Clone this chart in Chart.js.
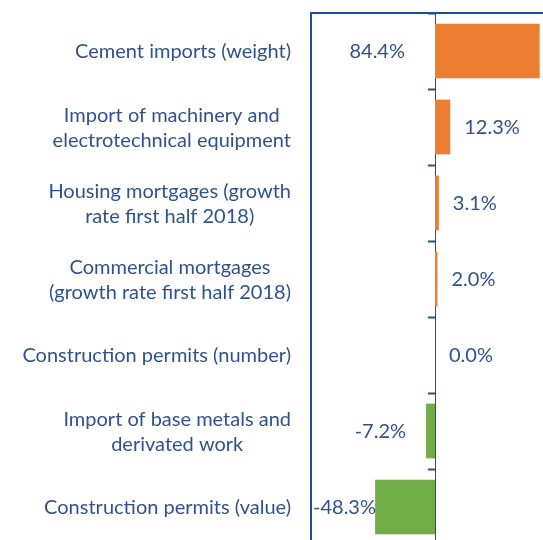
<!DOCTYPE html>
<html>
<head>
<meta charset="utf-8">
<script src="https://cdn.jsdelivr.net/npm/chart.js@4.4.1/dist/chart.umd.min.js"></script>
<style>
  html, body { margin: 0; padding: 0; background: #fff; overflow: hidden; }
  #wrap { width: 543px; height: 540px; overflow: hidden; position: relative; }
  #chart { display: block; }
</style>
</head>
<body>
<div id="wrap"><canvas id="chart" width="600" height="560"></canvas></div>
<script>
// Categories (multi-line labels, top to bottom)
const categories = [
  ['Cement imports (weight)'],
  ['Import of machinery and', 'electrotechnical equipment'],
  ['Housing mortgages (growth', 'rate first half 2018)'],
  ['Commercial mortgages', '(growth rate first half 2018)'],
  ['Construction permits (number)'],
  ['Import of base metals and', 'derivated work'],
  ['Construction permits (value)']
];

// Change in %
const values = [84.4, 12.3, 3.1, 2.0, 0.0, -7.2, -48.3];

const POS_COLOR = '#ED7D31';
const NEG_COLOR = '#70AD47';
const LINE_COLOR = '#1F4E96';
const TEXT_COLOR = '#2F528F';
const FONT = '20px Lato';
const VISIBLE_WIDTH = 543;

// Frame of the plot area (left and top edges) plus the category and value labels
const labelPlugin = {
  id: 'excelLabels',
  afterDraw(chart) {
    const ctx = chart.ctx;
    const area = chart.chartArea;
    const xs = chart.scales.x;
    const ys = chart.scales.y;

    ctx.save();
    // plot border
    ctx.strokeStyle = LINE_COLOR;
    ctx.lineWidth = 2;
    ctx.beginPath();
    ctx.moveTo(area.left, area.bottom + 20);
    ctx.lineTo(area.left, area.top);
    ctx.lineTo(area.right + 20, area.top);
    ctx.stroke();

    ctx.font = FONT;
    ctx.fillStyle = TEXT_COLOR;
    ctx.textBaseline = 'middle';

    // category labels: block right aligned, lines centered within block
    const labelRight = area.left - 20;
    const lineHeight = 25;
    categories.forEach((lines, i) => {
      const yc = ys.getPixelForTick(i) + 1;
      const widest = Math.max(...lines.map(l => ctx.measureText(l).width));
      const cx = labelRight - widest / 2;
      ctx.textAlign = 'center';
      lines.forEach((line, j) => {
        const y = yc + (j - (lines.length - 1) / 2) * lineHeight;
        ctx.fillText(line, cx, y);
      });
    });

    // value labels
    const zero = xs.getPixelForValue(0);
    values.forEach((v, i) => {
      const yc = ys.getPixelForTick(i) + 1;
      const end = xs.getPixelForValue(v);
      const text = v.toFixed(1) + '%';
      const w = ctx.measureText(text).width;
      let x;
      if (v >= 0) {
        x = end + 14;
        // no room on the right: put it on the other side of the axis
        if (x + w > VISIBLE_WIDTH) x = zero - 30 - w;
      } else {
        x = end - 20 - w;
        if (x < area.left + 2) x = area.left + 2;
      }
      ctx.textAlign = 'left';
      ctx.fillText(text, x, yc);
    });
    ctx.restore();
  }
};

new Chart(document.getElementById('chart'), {
  type: 'bar',
  data: {
    labels: categories,
    datasets: [{
      data: values,
      backgroundColor: values.map(v => v >= 0 ? POS_COLOR : NEG_COLOR),
      borderWidth: 0,
      categoryPercentage: 1,
      barPercentage: 0.72
    }]
  },
  options: {
    indexAxis: 'y',
    responsive: false,
    animation: false,
    devicePixelRatio: 1,
    layout: { padding: { left: 311, top: 13, right: 41, bottom: 15 } },
    plugins: {
      legend: { display: false },
      tooltip: { enabled: false }
    },
    scales: {
      x: {
        display: false,
        min: -100,
        max: 100
      },
      y: {
        position: { x: 0 },
        border: { display: true, color: LINE_COLOR, width: 1 },
        grid: {
          display: true,
          drawOnChartArea: false,
          drawTicks: true,
          tickLength: 7,
          tickWidth: 2,
          color: LINE_COLOR,
          offset: true
        },
        ticks: { display: false }
      }
    }
  },
  plugins: [labelPlugin]
});
</script>
</body>
</html>
